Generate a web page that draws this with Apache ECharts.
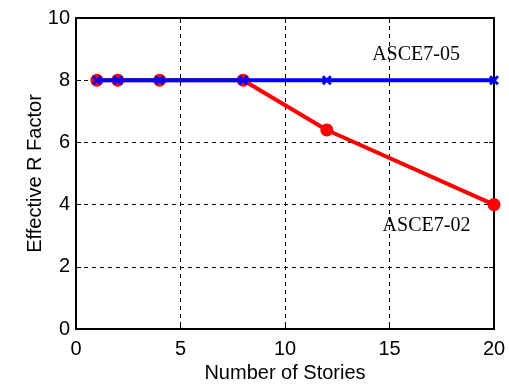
<!DOCTYPE html>
<html>
<head>
<meta charset="utf-8">
<script src="https://cdn.jsdelivr.net/npm/echarts@6/dist/echarts.min.js"></script>
<style>
  html, body { margin: 0; padding: 0; background: #fff; }
  #chart { width: 509px; height: 385px; }
</style>
</head>
<body>
<div id="chart"></div>
<script>
// Number of stories and effective R factor for both code editions
const stories = [1, 2, 4, 8, 12, 20];
const asce702 = [8, 8, 8, 8, 6.4, 4];
const asce705 = [8, 8, 8, 8, 8, 8];
const xTicks = [0, 5, 10, 15, 20];
const yTicks = [0, 2, 4, 6, 8, 10];
// Text annotations placed in data coordinates
const annotations = [
  { text: 'ASCE7-05', x: 16.27, y: 8.81 },
  { text: 'ASCE7-02', x: 16.77, y: 3.31 }
];

const pairs = (xs, ys) => xs.map((x, i) => [x, ys[i]]);
// bold "x" marker outline
const xMark = 'path://M0,2 L2,0 L5,3 L8,0 L10,2 L7,5 L10,8 L8,10 L5,7 L2,10 L0,8 L3,5 Z';

const font = '"Liberation Sans", Arial, Helvetica, sans-serif';
const axisBase = {
  axisLine: { show: true, onZero: false, lineStyle: { color: '#000', width: 2 } },
  axisTick: { show: true, inside: true, length: 5, lineStyle: { color: '#000', width: 1 } },
  minorTick: { show: false }
};

const chart = echarts.init(document.getElementById('chart'), null, { renderer: 'canvas' });
chart.setOption({
  animation: false,
  backgroundColor: '#fff',
  grid: { left: 76, right: 15, top: 18, bottom: 56, containLabel: false, outerBoundsMode: 'none' },
  xAxis: [
    Object.assign({}, axisBase, {
      type: 'value', min: xTicks[0], max: xTicks[xTicks.length - 1], interval: 5,
      position: 'bottom',
      name: 'Number of Stories', nameLocation: 'middle', nameGap: 33,
      nameTextStyle: { fontFamily: font, fontSize: 20, color: '#000' },
      axisLabel: { fontFamily: font, fontSize: 20, color: '#000', margin: 10 },
      splitLine: { show: true, lineStyle: { color: '#000', type: [4, 4], width: 1 } }
    }),
    Object.assign({}, axisBase, {
      type: 'value', min: 0, max: 20, interval: 5, position: 'top',
      axisLabel: { show: false }, splitLine: { show: false }
    })
  ],
  yAxis: [
    Object.assign({}, axisBase, {
      type: 'value', min: yTicks[0], max: yTicks[yTicks.length - 1], interval: 2,
      position: 'left',
      name: 'Effective R Factor', nameLocation: 'middle', nameGap: 31, nameMoveOverlap: false,
      nameTextStyle: { fontFamily: font, fontSize: 20, color: '#000' },
      axisLabel: { fontFamily: font, fontSize: 20, color: '#000', margin: 6 },
      splitLine: { show: true, lineStyle: { color: '#000', type: [4, 4], width: 1 } }
    }),
    Object.assign({}, axisBase, {
      type: 'value', min: 0, max: 10, interval: 2, position: 'right',
      axisLabel: { show: false }, splitLine: { show: false }
    })
  ],
  series: [
    {
      name: 'ASCE7-02', type: 'line', data: pairs(stories, asce702),
      symbol: 'circle', symbolSize: 13,
      lineStyle: { color: '#ff0000', width: 4 },
      itemStyle: { color: '#ff0000' },
      z: 2
    },
    {
      name: 'ASCE7-05', type: 'line', data: pairs(stories, asce705),
      symbol: xMark, symbolSize: 10,
      lineStyle: { color: '#0000ff', width: 4 },
      itemStyle: { color: '#0000ff' },
      z: 3
    },
    {
      type: 'scatter', symbolSize: 1, silent: true,
      itemStyle: { opacity: 0 },
      data: annotations.map(a => ({ value: [a.x, a.y], name: a.text })),
      label: {
        show: true, position: 'inside', formatter: p => p.name, opacity: 1,
        fontFamily: '"Liberation Serif", "Times New Roman", serif', fontSize: 20, color: '#000'
      },
      z: 4
    }
  ]
});
</script>
</body>
</html>
